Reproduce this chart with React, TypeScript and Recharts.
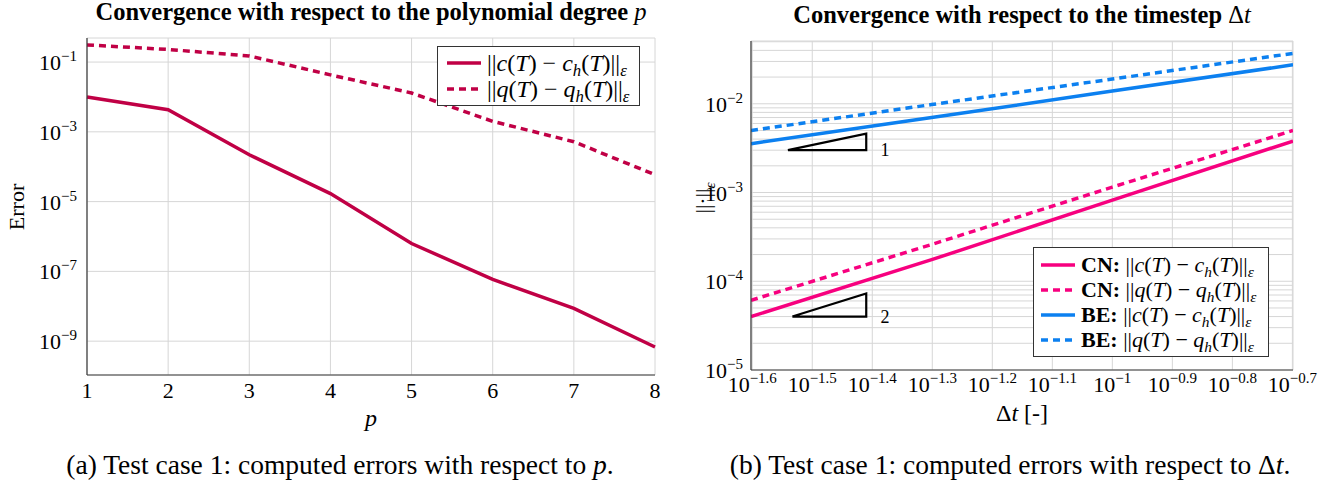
import React from 'react';
import { LineChart, Line, XAxis, YAxis, CartesianGrid, Legend, ReferenceDot } from 'recharts';

const FONT = '"Liberation Serif", "DejaVu Serif", serif';

// (a) errors against the polynomial degree p
const degrees = [1, 2, 3, 4, 5, 6, 7, 8];
const errC = [1.0e-2, 4.3e-3, 2.2e-4, 1.7e-5, 6.3e-7, 5.9e-8, 8.7e-9, 6.8e-10];
const errQ = [0.31, 0.23, 0.15, 0.043, 0.013, 2.0e-3, 5.2e-4, 5.9e-5];
const degreeYTicks = [1e-1, 1e-3, 1e-5, 1e-7, 1e-9];

// (b) errors against the timestep
const timesteps = [0.025, 0.05, 0.1, 0.2];
const cnC = [4.0e-5, 1.75e-4, 8.2e-4, 3.8e-3];
const cnQ = [6.1e-5, 2.6e-4, 1.15e-3, 5.0e-3];
const beC = [3.55e-3, 7.0e-3, 1.39e-2, 2.75e-2];
const beQ = [5.0e-3, 9.8e-3, 1.9e-2, 3.7e-2];
const dtExponents = [-1.6, -1.5, -1.4, -1.3, -1.2, -1.1, -1, -0.9, -0.8, -0.7];
const errDecades = [-5, -4, -3, -2];
const minorMults = [1, 2, 3, 4, 5, 6, 7, 8, 9];

// slope triangles
const slopeOne = [
  { dt: 0.0288, v: 3.0e-3 },
  { dt: 0.0389, v: 3.0e-3 },
  { dt: 0.0389, v: 4.6e-3 },
  { dt: 0.0288, v: 3.0e-3 },
];
const slopeTwo = [
  { dt: 0.0293, v: 4.0e-5 },
  { dt: 0.0389, v: 4.0e-5 },
  { dt: 0.0389, v: 7.3e-5 },
  { dt: 0.0293, v: 4.0e-5 },
];

const leftLegendOrder = ['c', 'q'];
const rightLegendOrder = ['cnC', 'cnQ', 'beC', 'beQ'];

const RED = '#c00045';
const PINK = '#f7007f';
const BLUE = '#0c80f0';
const GRID = '#d6d6d6';
const FRAME = '#3a3a3a';
const DASH = '7 5';

const minus = (n: number) => '\u2212' + String(Math.abs(n));

const YPowTick = (props: any) => {
  const { x, y, payload } = props;
  const lg = Math.log10(payload.value);
  const e = Math.round(lg);
  if (Math.abs(lg - e) > 1e-6) return null;
  return (
    <text x={x} y={y} dy={8} textAnchor="end" fontFamily={FONT} fontSize={22} fill="#000">
      10<tspan dy={-9} fontSize={15}>{minus(e)}</tspan>
    </text>
  );
};

const XPowTick = (props: any) => {
  const { x, y, payload } = props;
  const e = Math.round(Math.log10(payload.value) * 10) / 10;
  return (
    <text x={x} y={y} dy={16} textAnchor="middle" fontFamily={FONT} fontSize={22} fill="#000">
      10<tspan dy={-9} fontSize={15}>{minus(e)}</tspan>
    </text>
  );
};

const XNumTick = (props: any) => {
  const { x, y, payload } = props;
  return (
    <text x={x} y={y} dy={16} textAnchor="middle" fontFamily={FONT} fontSize={22} fill="#000">
      {payload.value}
    </text>
  );
};

const Sub = ({ children }: { children: React.ReactNode }) => (
  <span style={{ fontSize: '0.7em', position: 'relative', top: '0.3em', lineHeight: 0 }}>{children}</span>
);

const Norm = ({ v }: { v: string }) => (
  <span>
    ||<i>{v}</i>(<i>T</i>) &minus; <i>{v}</i>
    <Sub><i>h</i></Sub>(<i>T</i>)||<Sub><i>ε</i></Sub>
  </span>
);

const legendText: Record<string, React.ReactNode> = {
  c: <Norm v="c" />,
  q: <Norm v="q" />,
  cnC: <><b>CN:</b> <Norm v="c" /></>,
  cnQ: <><b>CN:</b> <Norm v="q" /></>,
  beC: <><b>BE:</b> <Norm v="c" /></>,
  beQ: <><b>BE:</b> <Norm v="q" /></>,
};

const LegendBox = ({ payload, order, rowH, size, pad }: any) => {
  const items = order
    .map((k: string) => (payload || []).find((it: any) => it.dataKey === k))
    .filter(Boolean);
  return (
    <div
      style={{
        border: '1.2px solid #333',
        background: '#fff',
        padding: pad,
        fontFamily: FONT,
        fontSize: size,
        lineHeight: rowH + 'px',
      }}
    >
      {items.map((item: any) => (
        <div key={item.dataKey} style={{ display: 'flex', alignItems: 'center', whiteSpace: 'nowrap', height: rowH }}>
          <svg width={34} height={10} style={{ marginRight: 6, flex: 'none' }}>
            <line
              x1={0}
              y1={5}
              x2={34}
              y2={5}
              stroke={item.color}
              strokeWidth={3.5}
              strokeDasharray={item.payload?.strokeDasharray}
            />
          </svg>
          <span>{legendText[item.dataKey]}</span>
        </div>
      ))}
    </div>
  );
};

const SlopeLabel = ({ viewBox, text }: any) => (
  <text x={viewBox.x} y={viewBox.y} dy={6} textAnchor="middle" fontFamily={FONT} fontSize={18} fill="#000">
    {text}
  </text>
);

const abs = (style: React.CSSProperties): React.CSSProperties => ({
  position: 'absolute',
  transform: 'translate(-50%, -50%)',
  whiteSpace: 'nowrap',
  lineHeight: 1,
  fontFamily: FONT,
  color: '#000',
  ...style,
});

export default function App() {
  const degreeData = degrees.map((p, i) => ({ p, c: errC[i], q: errQ[i] }));
  const stepData = timesteps.map((dt, i) => ({ dt, cnC: cnC[i], cnQ: cnQ[i], beC: beC[i], beQ: beQ[i] }));
  const dtTicks = dtExponents.map((e) => Math.pow(10, e));
  const errTicks = errDecades
    .flatMap((e) => minorMults.map((k) => k * Math.pow(10, e)))
    .filter((v) => v <= 0.051);

  return (
    <div style={{ position: 'absolute', left: 0, top: 0, width: 1340, height: 481, background: '#fff', fontFamily: FONT }}>
      {/* left panel */}
      <div style={abs({ left: 371, top: 12, fontSize: 24.5, fontWeight: 'bold' })}>
        Convergence with respect to the polynomial degree <i style={{ fontWeight: 'normal' }}>p</i>
      </div>
      <div style={{ position: 'absolute', left: 0, top: 0 }}>
        <LineChart width={680} height={440} data={degreeData} margin={{ top: 38, right: 25, bottom: 35, left: 7 }}>
          <CartesianGrid stroke={GRID} strokeWidth={1} />
          <XAxis
            dataKey="p"
            type="number"
            domain={[1, 8]}
            ticks={degrees}
            interval={0}
            height={30}
            tickSize={0}
            tickMargin={7}
            tickLine={false}
            axisLine={{ stroke: FRAME, strokeWidth: 1.2 }}
            tick={<XNumTick />}
          />
          <XAxis xAxisId="top" orientation="top" type="number" domain={[1, 8]} height={0} tick={false} tickLine={false} axisLine={{ stroke: FRAME, strokeWidth: 1.2 }} />
          <YAxis
            scale="log"
            type="number"
            domain={[Math.pow(10, -9.97), Math.pow(10, -0.31)]}
            allowDataOverflow
            ticks={degreeYTicks}
            interval={0}
            width={80}
            tickSize={0}
            tickMargin={10}
            tickLine={false}
            axisLine={{ stroke: FRAME, strokeWidth: 1.2 }}
            tick={<YPowTick />}
          />
          <YAxis yAxisId="right" orientation="right" width={0} tick={false} tickLine={false} axisLine={{ stroke: FRAME, strokeWidth: 1.2 }} />
          <Line dataKey="c" stroke={RED} strokeWidth={3.5} dot={false} isAnimationActive={false} />
          <Line dataKey="q" stroke={RED} strokeWidth={3.5} strokeDasharray={DASH} dot={false} isAnimationActive={false} />
          <Legend
            layout="vertical"
            align="center"
            verticalAlign="middle"
            wrapperStyle={{ left: 437, top: 46, width: 'auto' }}
            content={(p: any) => (
              <LegendBox payload={p.payload} order={leftLegendOrder} rowH={26} size={24} pad="3px 10px 3px 9px" />
            )}
          />
        </LineChart>
      </div>
      <div style={abs({ left: 17, top: 207, fontSize: 22, transform: 'translate(-50%, -50%) rotate(-90deg)' })}>Error</div>
      <div style={abs({ left: 371, top: 418, fontSize: 24, fontStyle: 'italic' })}>p</div>
      <div style={abs({ left: 340, top: 465, fontSize: 27.5 })}>
        (a) Test case 1: computed errors with respect to <i>p</i>.
      </div>

      {/* right panel */}
      <div style={abs({ left: 1022, top: 15, fontSize: 24.5, fontWeight: 'bold' })}>
        Convergence with respect to the timestep <span style={{ fontWeight: 'normal' }}>Δ<i>t</i></span>
      </div>
      <div style={{ position: 'absolute', left: 670, top: 0 }}>
        <LineChart width={670} height={440} data={stepData} margin={{ top: 41, right: 47, bottom: 40, left: 6 }}>
          <CartesianGrid stroke={GRID} strokeWidth={1} />
          <XAxis
            dataKey="dt"
            type="number"
            scale="log"
            domain={[0.025, 0.2]}
            allowDataOverflow
            ticks={dtTicks}
            interval={0}
            height={30}
            tickSize={0}
            tickMargin={6}
            tickLine={false}
            axisLine={{ stroke: FRAME, strokeWidth: 1.2 }}
            tick={<XPowTick />}
          />
          <XAxis xAxisId="top" orientation="top" type="number" domain={[0, 1]} height={0} tick={false} tickLine={false} axisLine={{ stroke: FRAME, strokeWidth: 1.2 }} />
          <YAxis
            scale="log"
            type="number"
            domain={[1e-5, 0.051]}
            allowDataOverflow
            ticks={errTicks}
            interval={0}
            width={75}
            tickSize={0}
            tickMargin={8}
            tickLine={false}
            axisLine={{ stroke: FRAME, strokeWidth: 1.2 }}
            tick={<YPowTick />}
          />
          <YAxis yAxisId="right" orientation="right" width={0} tick={false} tickLine={false} axisLine={{ stroke: FRAME, strokeWidth: 1.2 }} />
          <Line dataKey="cnC" stroke={PINK} strokeWidth={3.5} dot={false} isAnimationActive={false} />
          <Line dataKey="cnQ" stroke={PINK} strokeWidth={3.5} strokeDasharray={DASH} dot={false} isAnimationActive={false} />
          <Line dataKey="beC" stroke={BLUE} strokeWidth={3.5} dot={false} isAnimationActive={false} />
          <Line dataKey="beQ" stroke={BLUE} strokeWidth={3.5} strokeDasharray={DASH} dot={false} isAnimationActive={false} />
          <Line data={slopeOne} dataKey="v" stroke="#000" strokeWidth={2.2} dot={false} legendType="none" isAnimationActive={false} />
          <Line data={slopeTwo} dataKey="v" stroke="#000" strokeWidth={2.2} dot={false} legendType="none" isAnimationActive={false} />
          <ReferenceDot x={0.0418} y={3.0e-3} r={0} fill="none" stroke="none" label={<SlopeLabel text="1" />} />
          <ReferenceDot x={0.0418} y={4.0e-5} r={0} fill="none" stroke="none" label={<SlopeLabel text="2" />} />
          <Legend
            layout="vertical"
            align="center"
            verticalAlign="middle"
            wrapperStyle={{ left: 363, top: 247, width: 'auto' }}
            content={(p: any) => (
              <LegendBox payload={p.payload} order={rightLegendOrder} rowH={25} size={22} pad="4px 12px 4px 7px" />
            )}
          />
        </LineChart>
      </div>
      <div style={abs({ left: 703, top: 198, fontSize: 22, transform: 'translate(-50%, -50%) rotate(-90deg)' })}>
        ||·||<Sub><i>ε</i></Sub>
      </div>
      <div style={abs({ left: 1022, top: 413, fontSize: 24 })}>
        Δ<i>t</i> [-]
      </div>
      <div style={abs({ left: 1010, top: 465, fontSize: 27.5 })}>
        (b) Test case 1: computed errors with respect to Δ<i>t</i>.
      </div>
    </div>
  );
}
